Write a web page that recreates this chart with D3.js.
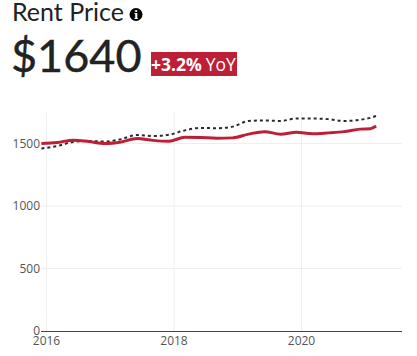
<!DOCTYPE html>
<html><head><meta charset="utf-8">
<script src="https://cdn.jsdelivr.net/npm/d3@7"></script>
<style>
html,body{margin:0;padding:0;background:#fff;overflow:hidden}
svg{display:block}
text{font-family:"Open Sans",sans-serif}
.hd{font-family:Lato,sans-serif}
</style></head><body>
<svg id="c" width="417" height="356"></svg>
<script>
const titleText = "Rent Price";
const bigValue = "$1640";
const yoyValue = "+3.2%";
const yoyLabel = "YoY";
const xTicks = [2016, 2018, 2020];
const yTicks = [0, 500, 1000, 1500];
const dates = [2015.92,2016.17,2016.42,2016.67,2016.92,2017.17,2017.42,2017.67,2017.92,2018.17,2018.42,2018.67,2018.92,2019.17,2019.42,2019.67,2019.92,2020.17,2020.42,2020.67,2020.92,2021.08,2021.17];
const rent = [1500,1508,1527,1515,1500,1512,1540,1525,1518,1550,1548,1543,1545,1575,1595,1575,1590,1578,1585,1595,1615,1618,1640];
const market = [1460,1480,1512,1520,1515,1535,1568,1560,1570,1605,1625,1622,1635,1680,1685,1680,1700,1700,1695,1680,1690,1705,1720];

const svg = d3.select("#c");
const x = d3.scaleLinear().domain([2016,2020]).range([46.5,301.5]);
const y = d3.scaleLinear().domain([0,1500]).range([331,143.5]);
const plotL=41, plotR=402, plotT=112;

svg.selectAll(".gx").data(xTicks).join("line").attr("class","gx").attr("x1",d=>x(d)).attr("x2",d=>x(d)).attr("y1",plotT).attr("y2",331).attr("stroke","#eee");
svg.selectAll(".gy").data(yTicks.slice(1)).join("line").attr("class","gy").attr("x1",plotL).attr("x2",plotR).attr("y1",d=>y(d)).attr("y2",d=>y(d)).attr("stroke","#eee");
svg.append("line").attr("x1",plotL).attr("x2",plotR).attr("y1",331.5).attr("y2",331.5).attr("stroke","#444");

svg.selectAll(".xl").data(xTicks).join("text").attr("class","xl").attr("x",d=>x(d)).attr("y",345).attr("text-anchor","middle").attr("font-size",12).attr("fill","#555").text(d=>d);
svg.selectAll(".yl").data(yTicks).join("text").attr("class","yl").attr("x",40).attr("y",d=>y(d)+4).attr("text-anchor","end").attr("font-size",12).attr("fill","#555").text(d=>d);

const line = vals => d3.line().x((d,i)=>x(dates[i])).y(d=>y(d)).curve(d3.curveMonotoneX)(vals);
svg.append("path").attr("d",line(market)).attr("fill","none").attr("stroke","#2a2a2a").attr("stroke-width",2).attr("stroke-dasharray","3 3");
svg.append("path").attr("d",line(rent)).attr("fill","none").attr("stroke","#bd1f36").attr("stroke-width",3);

svg.append("text").attr("class","hd").attr("x",12).attr("y",21).attr("font-size",25).attr("fill","#222").text(titleText);
const ic = svg.append("g").attr("transform","translate(136,14.5)");
ic.append("circle").attr("r",6.5).attr("fill","#000");
ic.append("text").attr("text-anchor","middle").attr("y",4).attr("font-size",11).attr("font-weight",700).attr("fill","#fff").style("font-family","DejaVu Serif").text("i");
svg.append("text").attr("class","hd").attr("x",11).attr("y",72).attr("font-size",45).attr("fill","#222").attr("stroke","#222").attr("stroke-width",0.4).text(bigValue);
svg.append("rect").attr("x",151).attr("y",52).attr("width",86).attr("height",24).attr("fill","#bd1f36");
const t = svg.append("text").attr("x",151).attr("y",70.5).attr("font-size",17.5).attr("fill","#fff");
t.append("tspan").attr("font-weight",700).text(yoyValue);
t.append("tspan").attr("dx",4).text(yoyLabel);
</script></body></html>
